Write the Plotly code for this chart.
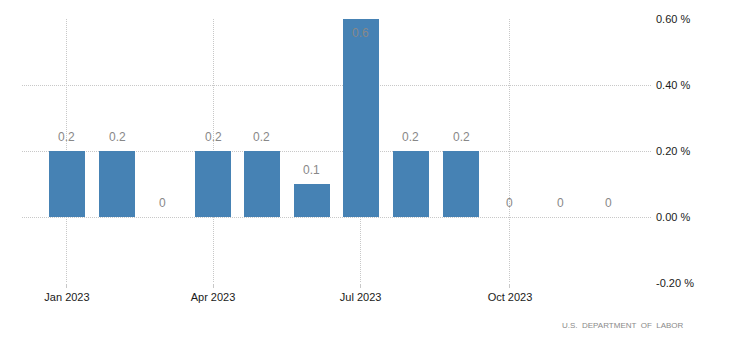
import plotly.graph_objects as go

months = ["2023-01-01", "2023-02-01", "2023-03-01", "2023-04-01", "2023-05-01", "2023-06-01",
          "2023-07-01", "2023-08-01", "2023-09-01", "2023-10-01", "2023-11-01", "2023-12-01"]
values = [0.2, 0.2, 0, 0.2, 0.2, 0.1, 0.6, 0.2, 0.2, 0, 0, 0]
labels = ["0.2", "0.2", "0", "0.2", "0.2", "0.1", "0.6", "0.2", "0.2", "0", "0", "0"]
x_ticks = ["2023-01-01", "2023-04-01", "2023-07-01", "2023-10-01"]
y_ticks = [-0.2, 0.0, 0.2, 0.4, 0.6]
y_tick_text = ["-0.20 %", "0.00 %", "0.20 %", "0.40 %", "0.60 %"]
source = "U.S.  DEPARTMENT  OF  LABOR"

DAY = 86400000
BAR_COLOR = "#4682B4"
LABEL_COLOR = "#888888"
GRID = "#c8c8c8"
FONT = "Liberation Sans"

fig = go.Figure()
fig.add_trace(go.Bar(
    x=months, y=values,
    width=[22.3 * DAY] * len(months),
    marker=dict(color=BAR_COLOR, line=dict(width=0)),
    hoverinfo="skip",
))

y_max = max(y_ticks)
for m, v, t in zip(months, values, labels):
    at_top = v >= y_max
    fig.add_annotation(
        x=m, y=v, xref="x", yref="y", text=t, showarrow=False,
        yanchor="top" if at_top else "bottom",
        yshift=-5 if at_top else 5,
        font=dict(family=FONT, size=12, color=LABEL_COLOR),
    )

fig.add_annotation(
    xref="paper", yref="paper", x=(686 - 22) / (651 - 22), y=-(325 - 283) / (283 - 19),
    xanchor="right", yanchor="middle", text=source, showarrow=False,
    font=dict(family=FONT, size=8, color="#8a8a8a"),
)

fig.update_layout(
    width=730, height=347,
    margin=dict(l=22, r=79, t=19, b=64, pad=0),
    paper_bgcolor="white", plot_bgcolor="white",
    showlegend=False,
    bargap=0,
    font=dict(family=FONT, size=11, color="#1a1a1a"),
)
fig.update_xaxes(
    type="date",
    range=["2022-12-04 07:00", "2023-12-26 22:00"],
    tickvals=x_ticks, tickformat="%b %Y",
    showgrid=True, gridcolor=GRID, griddash="1px,1px", gridwidth=1,
    ticks="outside", ticklen=4, tickcolor=GRID,
    showline=False, zeroline=False,
    tickfont=dict(family=FONT, size=11, color="#1a1a1a"),
)
fig.update_yaxes(
    side="right", range=[-0.2, 0.6],
    tickvals=y_ticks, ticktext=y_tick_text,
    showgrid=True, gridcolor=GRID, griddash="1px,1px", gridwidth=1,
    zeroline=False, showline=False, ticks="",
    ticklabelstandoff=4,
    tickfont=dict(family=FONT, size=11, color="#1a1a1a"),
)

fig.write_html("out.html")
